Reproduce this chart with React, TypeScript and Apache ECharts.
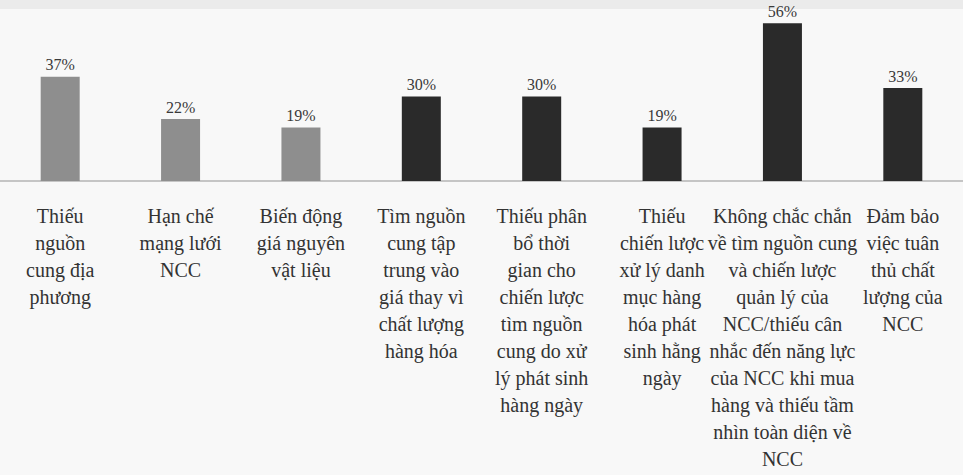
import React, { useEffect, useRef } from "react";
import * as echarts from "echarts";

const categories: string[] = [
  "Thiếu\nnguồn\ncung địa\nphương",
  "Hạn chế\nmạng lưới\nNCC",
  "Biến động\ngiá nguyên\nvật liệu",
  "Tìm nguồn\ncung tập\ntrung vào\ngiá thay vì\nchất lượng\nhàng hóa",
  "Thiếu phân\nbổ thời\ngian cho\nchiến lược\ntìm nguồn\ncung do xử\nlý phát sinh\nhàng ngày",
  "Thiếu\nchiến lược\nxử lý danh\nmục hàng\nhóa phát\nsinh hằng\nngày",
  "Không chắc chắn\nvề tìm nguồn cung\nvà chiến lược\nquản lý của\nNCC/thiếu cân\nnhắc đến năng lực\ncủa NCC khi mua\nhàng và thiếu tầm\nnhìn toàn diện về\nNCC",
  "Đảm bảo\nviệc tuân\nthủ chất\nlượng của\nNCC",
];

const values: number[] = [37, 22, 19, 30, 30, 19, 56, 33];
const groups: string[] = ["light", "light", "light", "dark", "dark", "dark", "dark", "dark"];
const groupColors: Record<string, string> = { light: "#8e8e8e", dark: "#2a2a2a" };

export default function App() {
  const ref = useRef<HTMLDivElement>(null);
  useEffect(() => {
    if (!ref.current) return;
    const chart = echarts.init(ref.current, null, { renderer: "svg" });
    chart.setOption({
      animation: false,
      grid: { left: 0, right: 0, top: 12, height: 169 },
      xAxis: {
        type: "category",
        data: categories,
        axisLine: { show: true, lineStyle: { color: "#b4b4b4", width: 1.5 } },
        axisTick: { show: false },
        axisLabel: {
          interval: 0,
          margin: 21,
          formatter: (v: string) => "{a|" + v.split("\n").join("}\n{a|") + "}",
          rich: {
            a: {
              fontFamily: "Liberation Serif",
              fontSize: 20,
              lineHeight: 27,
              color: "#333333",
              align: "center",
            },
          },
        },
      },
      yAxis: { type: "value", min: 0, max: 60, show: false },
      series: [
        {
          type: "bar",
          barWidth: 39,
          data: values.map((v, i) => ({
            value: v,
            itemStyle: { color: groupColors[groups[i]] },
          })),
          label: {
            show: true,
            position: "top",
            distance: 4,
            formatter: "{c}%",
            fontFamily: "Liberation Serif",
            fontSize: 16,
            color: "#3a3a3a",
          },
        },
      ],
      graphic: [
        {
          type: "rect",
          left: 0,
          top: 0,
          shape: { width: 963, height: 9 },
          style: { fill: "#ebebeb" },
          silent: true,
        },
      ],
    });
    return () => chart.dispose();
  }, []);
  return (
    <div
      ref={ref}
      style={{
        position: "absolute",
        left: 0,
        top: 0,
        width: 963,
        height: 475,
        background: "#f8f8f8",
      }}
    />
  );
}
